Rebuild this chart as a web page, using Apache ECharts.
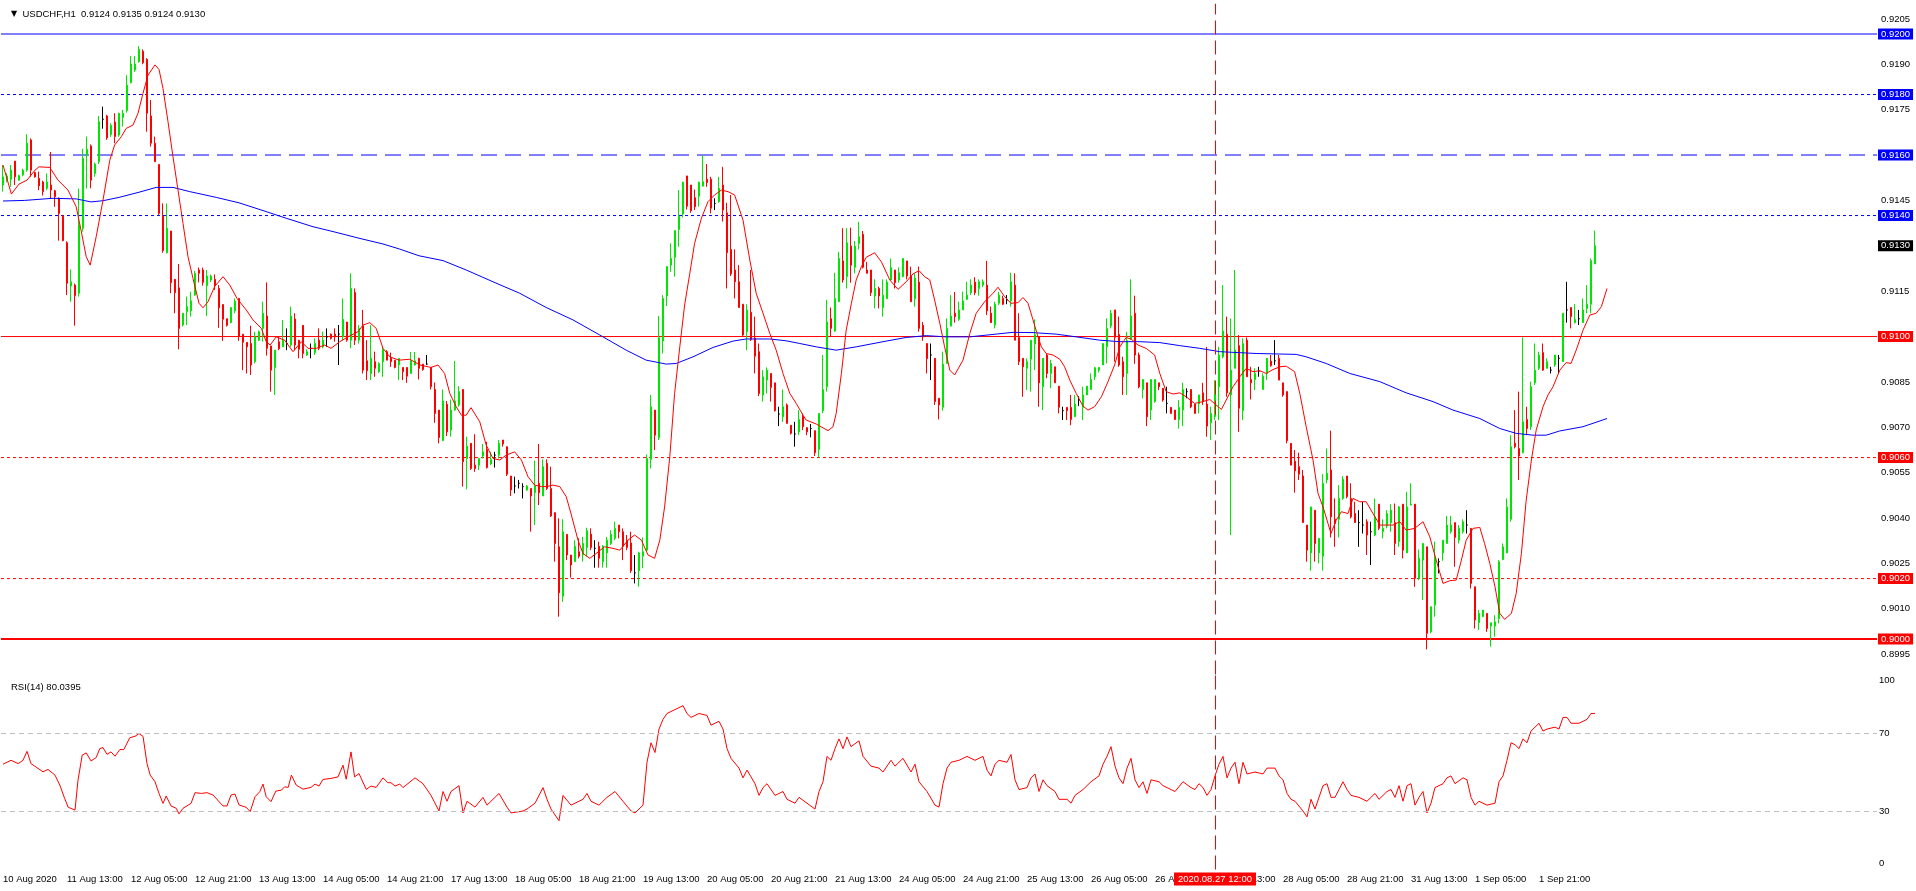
<!DOCTYPE html>
<html><head><meta charset="utf-8">
<script src="https://cdn.jsdelivr.net/npm/echarts@6/dist/echarts.min.js"></script>
<style>html,body{margin:0;padding:0;background:#fff}#c{width:1916px;height:891px}</style>
</head><body><div id="c"></div>
<script>
// ---------- DATA ----------
const symbolName = 'USDCHF,H1';
// hourly candles, ECharts order: [open, close, low, high]
const ohlc = [
[0.91501,0.91528,0.91479,0.91567],[0.91517,0.91531,0.91510,0.91540],[0.91520,0.91550,0.91495,0.91567],[0.91580,0.91528,0.91501,0.91580],[0.91517,0.91532,0.91515,0.91535],[0.91534,0.91550,0.91530,0.91555],[0.91550,0.91639,0.91545,0.91669],[0.91650,0.91550,0.91528,0.91655],[0.91542,0.91528,0.91525,0.91545],[0.91523,0.91498,0.91484,0.91545],
[0.91511,0.91479,0.91466,0.91515],[0.91490,0.91511,0.91484,0.91539],[0.91501,0.91484,0.91457,0.91610],[0.91482,0.91462,0.91429,0.91485],[0.91457,0.91407,0.91317,0.91460],[0.91398,0.91317,0.91315,0.91402],[0.91310,0.91176,0.91137,0.91315],[0.91167,0.91181,0.91115,0.91222],[0.91170,0.91135,0.91036,0.91175],[0.91143,0.91369,0.91132,0.91489],
[0.91358,0.91589,0.91347,0.91621],[0.91600,0.91619,0.91489,0.91661],[0.91630,0.91517,0.91490,0.91635],[0.91539,0.91570,0.91528,0.91575],[0.91578,0.91710,0.91570,0.91729],[0.91718,0.91718,0.91687,0.91760],[0.91729,0.91657,0.91650,0.91733],[0.91668,0.91698,0.91660,0.91705],[0.91709,0.91661,0.91639,0.91738],[0.91666,0.91738,0.91660,0.91740],
[0.91725,0.91738,0.91694,0.91749],[0.91747,0.91831,0.91740,0.91864],[0.91839,0.91901,0.91837,0.91927],[0.91881,0.91901,0.91875,0.91927],[0.91909,0.91949,0.91905,0.91960],[0.91943,0.91905,0.91900,0.91949],[0.91916,0.91738,0.91677,0.91920],[0.91729,0.91639,0.91628,0.91782],[0.91639,0.91578,0.91578,0.91661],[0.91569,0.91407,0.91402,0.91570],
[0.91398,0.91284,0.91277,0.91440],[0.91277,0.91358,0.91275,0.91440],[0.91349,0.91178,0.91143,0.91349],[0.91189,0.91145,0.91077,0.91190],[0.91161,0.91027,0.90958,0.91240],[0.91038,0.91077,0.91033,0.91078],[0.91082,0.91099,0.91038,0.91132],[0.91085,0.91118,0.91066,0.91148],[0.91137,0.91209,0.91135,0.91217],[0.91220,0.91209,0.91179,0.91228],
[0.91220,0.91179,0.91168,0.91228],[0.91168,0.91200,0.91068,0.91220],[0.91187,0.91200,0.91180,0.91205],[0.91189,0.91170,0.91154,0.91205],[0.91159,0.91095,0.91029,0.91170],[0.91106,0.91057,0.90986,0.91106],[0.91059,0.91037,0.91033,0.91059],[0.91046,0.91096,0.91044,0.91096],[0.91085,0.91117,0.91077,0.91126],[0.91126,0.90999,0.90986,0.91126],
[0.91008,0.90981,0.90889,0.91008],[0.90981,0.90966,0.90878,0.90981],[0.90977,0.90906,0.90873,0.91036],[0.90917,0.90999,0.90911,0.91016],[0.90988,0.91016,0.90985,0.91020],[0.91027,0.91077,0.90983,0.91115],[0.91068,0.90961,0.90937,0.91179],[0.90969,0.90889,0.90818,0.90969],[0.90898,0.90955,0.90807,0.90955],[0.90983,0.90960,0.90955,0.90999],
[0.90966,0.90988,0.90966,0.91055],[0.90977,0.90977,0.90955,0.91027],[0.90972,0.91068,0.90966,0.91099],[0.91058,0.90972,0.90955,0.91077],[0.90988,0.90958,0.90928,0.90988],[0.91037,0.90944,0.90928,0.91037],[0.90939,0.90950,0.90936,0.90958],[0.90961,0.90961,0.90928,0.90977],[0.90947,0.90977,0.90939,0.90994],[0.90988,0.90961,0.90955,0.91027],
[0.90966,0.90988,0.90961,0.91016],[0.90999,0.90999,0.90966,0.91027],[0.91008,0.90994,0.90990,0.91010],[0.91008,0.90999,0.90983,0.91027],[0.91008,0.91008,0.90906,0.91038],[0.90999,0.91057,0.90988,0.91126],[0.91048,0.90988,0.90983,0.91048],[0.90988,0.91159,0.90961,0.91209],[0.91146,0.90988,0.90972,0.91159],[0.90988,0.91027,0.90977,0.91038],
[0.91036,0.90889,0.90878,0.91088],[0.90920,0.90887,0.90856,0.90988],[0.90878,0.90928,0.90856,0.91038],[0.90917,0.90895,0.90867,0.90950],[0.90884,0.90911,0.90880,0.90915],[0.90917,0.90958,0.90867,0.90966],[0.90950,0.90922,0.90922,0.90955],[0.90928,0.90917,0.90900,0.90947],[0.90922,0.90898,0.90895,0.90922],[0.90906,0.90928,0.90856,0.90928],
[0.90898,0.90884,0.90856,0.90898],[0.90898,0.90869,0.90847,0.90898],[0.90878,0.90922,0.90878,0.90949],[0.90906,0.90920,0.90904,0.90949],[0.90928,0.90895,0.90858,0.90930],[0.90909,0.90891,0.90887,0.90909],[0.90909,0.90909,0.90906,0.90939],[0.90898,0.90834,0.90825,0.90898],[0.90825,0.90746,0.90715,0.90848],[0.90757,0.90666,0.90647,0.90757],
[0.90656,0.90787,0.90656,0.90825],[0.90776,0.90685,0.90671,0.90787],[0.90691,0.90757,0.90669,0.90792],[0.90757,0.90787,0.90755,0.90919],[0.90774,0.90818,0.90768,0.90836],[0.90825,0.90586,0.90504,0.90825],[0.90597,0.90638,0.90495,0.90669],[0.90647,0.90564,0.90559,0.90647],[0.90575,0.90564,0.90553,0.90677],[0.90575,0.90597,0.90559,0.90597],
[0.90605,0.90619,0.90597,0.90645],[0.90627,0.90567,0.90564,0.90652],[0.90579,0.90594,0.90575,0.90619],[0.90608,0.90608,0.90567,0.90619],[0.90608,0.90647,0.90597,0.90658],[0.90658,0.90645,0.90636,0.90658],[0.90636,0.90545,0.90539,0.90636],[0.90539,0.90493,0.90473,0.90539],[0.90506,0.90506,0.90482,0.90537],[0.90515,0.90515,0.90498,0.90526],
[0.90504,0.90504,0.90465,0.90515],[0.90493,0.90506,0.90490,0.90509],[0.90498,0.90473,0.90355,0.90498],[0.90484,0.90506,0.90377,0.90590],[0.90515,0.90484,0.90443,0.90645],[0.90473,0.90570,0.90473,0.90594],[0.90581,0.90498,0.90493,0.90594],[0.90498,0.90407,0.90404,0.90570],[0.90418,0.90316,0.90256,0.90418],[0.90305,0.90153,0.90074,0.90399],
[0.90142,0.90355,0.90123,0.90396],[0.90346,0.90278,0.90261,0.90346],[0.90278,0.90245,0.90203,0.90278],[0.90256,0.90307,0.90256,0.90327],[0.90289,0.90274,0.90267,0.90333],[0.90278,0.90316,0.90256,0.90338],[0.90303,0.90358,0.90272,0.90368],[0.90347,0.90303,0.90294,0.90366],[0.90300,0.90300,0.90236,0.90327],[0.90307,0.90267,0.90236,0.90322],
[0.90256,0.90307,0.90236,0.90311],[0.90285,0.90327,0.90236,0.90338],[0.90316,0.90346,0.90311,0.90360],[0.90333,0.90366,0.90327,0.90388],[0.90377,0.90355,0.90333,0.90377],[0.90355,0.90307,0.90261,0.90366],[0.90327,0.90303,0.90294,0.90344],[0.90318,0.90226,0.90219,0.90355],[0.90219,0.90219,0.90184,0.90278],[0.90226,0.90285,0.90173,0.90289],
[0.90274,0.90289,0.90234,0.90336],[0.90294,0.90597,0.90289,0.90610],[0.90594,0.90768,0.90564,0.90807],[0.90757,0.90674,0.90625,0.90757],[0.90666,0.90996,0.90658,0.91068],[0.90985,0.91126,0.90944,0.91137],[0.91134,0.91231,0.91101,0.91233],[0.91236,0.91258,0.91214,0.91308],[0.91262,0.91350,0.91198,0.91352],[0.91354,0.91398,0.91297,0.91484],
[0.91405,0.91510,0.91394,0.91512],[0.91531,0.91431,0.91420,0.91531],[0.91501,0.91416,0.91409,0.91501],[0.91459,0.91429,0.91418,0.91486],[0.91464,0.91510,0.91429,0.91512],[0.91497,0.91512,0.91497,0.91599],[0.91520,0.91509,0.91495,0.91570],[0.91520,0.91424,0.91407,0.91528],[0.91440,0.91440,0.91418,0.91457],[0.91446,0.91490,0.91442,0.91528],
[0.91501,0.91418,0.91380,0.91561],[0.91409,0.91277,0.91159,0.91442],[0.91288,0.91207,0.91200,0.91468],[0.91220,0.91181,0.91126,0.91288],[0.91181,0.91096,0.91096,0.91236],[0.91107,0.91005,0.90999,0.91107],[0.91016,0.91088,0.90955,0.91107],[0.91080,0.90991,0.90985,0.91220],[0.90995,0.90935,0.90878,0.91066],[0.90950,0.90812,0.90803,0.90977],
[0.90807,0.90867,0.90785,0.90889],[0.90856,0.90889,0.90812,0.90898],[0.90878,0.90832,0.90785,0.90878],[0.90847,0.90755,0.90752,0.90847],[0.90744,0.90744,0.90704,0.90768],[0.90735,0.90768,0.90718,0.90825],[0.90774,0.90713,0.90713,0.90779],[0.90707,0.90680,0.90676,0.90707],[0.90678,0.90678,0.90636,0.90718],[0.90685,0.90726,0.90674,0.90757],
[0.90737,0.90702,0.90691,0.90746],[0.90699,0.90685,0.90674,0.90699],[0.90696,0.90696,0.90667,0.90711],[0.90689,0.90616,0.90605,0.90689],[0.90627,0.90746,0.90601,0.90746],[0.90755,0.90825,0.90746,0.90939],[0.90834,0.91048,0.90818,0.91121],[0.91059,0.91027,0.90999,0.91096],[0.91018,0.91126,0.91016,0.91211],[0.91115,0.91258,0.91115,0.91280],
[0.91250,0.91187,0.91178,0.91358],[0.91198,0.91310,0.91159,0.91358],[0.91299,0.91236,0.91178,0.91360],[0.91229,0.91299,0.91209,0.91316],[0.91308,0.91330,0.91288,0.91379],[0.91338,0.91229,0.91225,0.91349],[0.91220,0.91209,0.91209,0.91247],[0.91220,0.91145,0.91134,0.91220],[0.91134,0.91159,0.91093,0.91189],[0.91159,0.91134,0.91093,0.91165],
[0.91096,0.91137,0.91066,0.91189],[0.91125,0.91180,0.91125,0.91189],[0.91187,0.91228,0.91187,0.91258],[0.91220,0.91178,0.91159,0.91220],[0.91187,0.91211,0.91178,0.91229],[0.91198,0.91258,0.91196,0.91258],[0.91250,0.91200,0.91189,0.91250],[0.91200,0.91115,0.91115,0.91231],[0.91125,0.91193,0.91099,0.91209],[0.91180,0.91027,0.91016,0.91231],
[0.91037,0.90999,0.90986,0.91048],[0.90977,0.90927,0.90878,0.90977],[0.90939,0.90939,0.90856,0.90977],[0.90928,0.90785,0.90774,0.90928],[0.90796,0.90774,0.90726,0.90796],[0.90766,0.90909,0.90755,0.90950],[0.90911,0.91027,0.90911,0.91060],[0.91035,0.91068,0.91033,0.91137],[0.91077,0.91066,0.91046,0.91147],[0.91057,0.91088,0.91052,0.91115],
[0.91088,0.91118,0.91088,0.91148],[0.91123,0.91137,0.91121,0.91181],[0.91145,0.91170,0.91137,0.91189],[0.91180,0.91145,0.91137,0.91196],[0.91159,0.91181,0.91135,0.91189],[0.91170,0.91181,0.91163,0.91189],[0.91170,0.91085,0.91071,0.91250],[0.91077,0.91046,0.91046,0.91099],[0.91038,0.91107,0.91027,0.91115],[0.91110,0.91137,0.91104,0.91148],
[0.91126,0.91107,0.91104,0.91135],[0.91121,0.91121,0.91107,0.91137],[0.91118,0.91181,0.91099,0.91211],[0.91170,0.90988,0.90988,0.91209],[0.90997,0.90917,0.90906,0.91077],[0.90928,0.90900,0.90801,0.90928],[0.90895,0.90917,0.90823,0.90928],[0.90925,0.90988,0.90818,0.90988],[0.90975,0.91006,0.90889,0.91057],[0.90999,0.90847,0.90768,0.90999],
[0.90834,0.90928,0.90757,0.90928],[0.90939,0.90878,0.90862,0.90945],[0.90878,0.90911,0.90829,0.90923],[0.90900,0.90847,0.90847,0.90900],[0.90836,0.90766,0.90746,0.90836],[0.90755,0.90755,0.90724,0.90768],[0.90766,0.90755,0.90724,0.90766],[0.90766,0.90726,0.90707,0.90807],[0.90735,0.90777,0.90735,0.90807],[0.90790,0.90790,0.90770,0.90803],
[0.90766,0.90807,0.90724,0.90834],[0.90807,0.90836,0.90807,0.90836],[0.90825,0.90858,0.90825,0.90878],[0.90867,0.90897,0.90856,0.90900],[0.90889,0.90898,0.90881,0.90898],[0.90906,0.90977,0.90906,0.90977],[0.90966,0.91027,0.90911,0.91060],[0.91035,0.91077,0.91027,0.91088],[0.91088,0.90997,0.90917,0.91088],[0.91007,0.90906,0.90900,0.91066],
[0.90917,0.90867,0.90807,0.90933],[0.90878,0.90986,0.90807,0.91016],[0.90991,0.91068,0.90991,0.91189],[0.91077,0.90939,0.90910,0.91135],[0.90939,0.90834,0.90829,0.90947],[0.90825,0.90858,0.90796,0.90858],[0.90847,0.90735,0.90704,0.90847],[0.90757,0.90858,0.90724,0.90858],[0.90785,0.90858,0.90781,0.90858],[0.90847,0.90834,0.90823,0.90847],
[0.90829,0.90790,0.90785,0.90829],[0.90779,0.90779,0.90746,0.90834],[0.90766,0.90746,0.90746,0.90766],[0.90757,0.90726,0.90724,0.90757],[0.90726,0.90766,0.90696,0.90790],[0.90757,0.90825,0.90704,0.90847],[0.90818,0.90818,0.90796,0.90829],[0.90825,0.90768,0.90763,0.90825],[0.90777,0.90746,0.90746,0.90777],[0.90777,0.90807,0.90746,0.90807],
[0.90814,0.90785,0.90774,0.90847],[0.90777,0.90704,0.90669,0.90966],[0.90715,0.90746,0.90658,0.90768],[0.90735,0.90851,0.90724,0.90856],[0.90834,0.90939,0.90724,0.90966],[0.90933,0.91018,0.90928,0.91170],[0.91008,0.90814,0.90801,0.91066],[0.90807,0.90889,0.90344,0.91060],[0.90895,0.90955,0.90895,0.91220],[0.90970,0.90763,0.90685,0.91005],
[0.90755,0.90977,0.90724,0.90994],[0.90988,0.90867,0.90867,0.90997],[0.90858,0.90847,0.90792,0.90900],[0.90858,0.90878,0.90823,0.90895],[0.90886,0.90886,0.90867,0.90900],[0.90825,0.90869,0.90825,0.90878],[0.90878,0.90928,0.90856,0.90928],[0.90919,0.90904,0.90900,0.90939],[0.90920,0.90920,0.90906,0.90988],[0.90928,0.90856,0.90856,0.90939],
[0.90847,0.90807,0.90801,0.90847],[0.90818,0.90656,0.90647,0.90818],[0.90647,0.90575,0.90575,0.90647],[0.90588,0.90556,0.90484,0.90625],[0.90570,0.90545,0.90526,0.90616],[0.90539,0.90385,0.90385,0.90559],[0.90377,0.90294,0.90256,0.90377],[0.90285,0.90437,0.90226,0.90437],[0.90426,0.90316,0.90256,0.90426],[0.90285,0.90333,0.90250,0.90333],
[0.90274,0.90515,0.90226,0.90545],[0.90526,0.90548,0.90515,0.90630],[0.90559,0.90404,0.90336,0.90689],[0.90396,0.90382,0.90305,0.90465],[0.90396,0.90465,0.90336,0.90509],[0.90465,0.90528,0.90460,0.90539],[0.90539,0.90471,0.90465,0.90539],[0.90465,0.90404,0.90399,0.90515],[0.90415,0.90385,0.90385,0.90454],[0.90385,0.90385,0.90305,0.90426],
[0.90377,0.90377,0.90349,0.90454],[0.90388,0.90344,0.90278,0.90396],[0.90355,0.90355,0.90245,0.90388],[0.90344,0.90404,0.90340,0.90465],[0.90446,0.90366,0.90360,0.90446],[0.90355,0.90366,0.90333,0.90396],[0.90374,0.90415,0.90366,0.90426],[0.90385,0.90426,0.90355,0.90446],[0.90385,0.90316,0.90278,0.90448],[0.90322,0.90437,0.90305,0.90440],
[0.90446,0.90294,0.90267,0.90446],[0.90285,0.90437,0.90285,0.90487],[0.90443,0.90446,0.90443,0.90515],[0.90446,0.90201,0.90173,0.90446],[0.90201,0.90267,0.90195,0.90296],[0.90261,0.90316,0.90129,0.90316],[0.90305,0.90019,0.89966,0.90305],[0.90024,0.90107,0.90019,0.90107],[0.90112,0.90267,0.90074,0.90322],[0.90256,0.90256,0.90217,0.90267],
[0.90285,0.90327,0.90259,0.90327],[0.90316,0.90377,0.90316,0.90407],[0.90355,0.90377,0.90349,0.90407],[0.90385,0.90336,0.90239,0.90385],[0.90327,0.90366,0.90316,0.90377],[0.90355,0.90388,0.90349,0.90396],[0.90377,0.90377,0.90349,0.90426],[0.90366,0.90184,0.90167,0.90366],[0.90173,0.90063,0.90035,0.90173],[0.90054,0.90085,0.90030,0.90096],
[0.90074,0.90096,0.90074,0.90096],[0.90085,0.90035,0.90024,0.90085],[0.90043,0.90054,0.89975,0.90054],[0.90043,0.90057,0.90008,0.90079],[0.90068,0.90256,0.90052,0.90261],[0.90263,0.90305,0.90261,0.90316],[0.90285,0.90437,0.90285,0.90465],[0.90396,0.90636,0.90388,0.90674],[0.90647,0.90636,0.90630,0.90757],[0.90630,0.90605,0.90526,0.90818],
[0.90616,0.90718,0.90614,0.90997],[0.90726,0.90696,0.90674,0.90768],[0.90702,0.90834,0.90691,0.90851],[0.90847,0.90889,0.90840,0.90977],[0.90895,0.90939,0.90889,0.90950],[0.90947,0.90889,0.90887,0.90977],[0.90895,0.90917,0.90895,0.90928],[0.90889,0.90889,0.90878,0.90900],[0.90906,0.90939,0.90900,0.90939],[0.90928,0.90928,0.90878,0.90939],
[0.90917,0.91077,0.90917,0.91077],[0.91088,0.91088,0.91046,0.91181],[0.91096,0.91066,0.91027,0.91096],[0.91046,0.91057,0.91043,0.91107],[0.91059,0.91059,0.91038,0.91088],[0.91046,0.91088,0.91046,0.91126],[0.91093,0.91107,0.91077,0.91170],[0.91107,0.91251,0.91077,0.91258],[0.91240,0.91300,0.91240,0.91350]
];
// fast moving average (red), read as [bar position, price]
const fastMA = [[0,0.91567],[2.1,0.91471],[4,0.91504],[6,0.91517],[8,0.91550],[9,0.91561],[11.7,0.91559],[13.75,0.91517],[16.25,0.91484],[18.3,0.91429],[19.5,0.91352],[20.8,0.91264],[21.8,0.91236],[23.3,0.91330],[25,0.91451],[26.7,0.91583],[27.9,0.91633],[29.6,0.91661],[30.8,0.91688],[32.5,0.91699],[33.75,0.91738],[35,0.91804],[36.25,0.91864],[38,0.91898],[39,0.91883],[40,0.91820],[41.25,0.91710],[42.5,0.91594],[43.75,0.91484],[45,0.91374],[46.25,0.91264],[47.5,0.91192],[49,0.91110],[50,0.91095],[51.25,0.91115],[52.9,0.91165],[55,0.91198],[56.7,0.91170],[58.5,0.91126],[60.8,0.91088],[62.5,0.91055],[64.6,0.91027],[65.8,0.90983],[66.8,0.90972],[68.3,0.90999],[70.4,0.90988],[72.5,0.90950],[74.6,0.90983],[76.25,0.90961],[78.3,0.90961],[80.4,0.90972],[82,0.90961],[84.2,0.90983],[86.25,0.90999],[88.75,0.91016],[90,0.91038],[91.7,0.91046],[93.3,0.91027],[95,0.90961],[96.7,0.90933],[99,0.90922],
[101.7,0.90925],[104.2,0.90906],[107,0.90898],[108.75,0.90906],[110.4,0.90878],[111.7,0.90812],[113.3,0.90768],[114.6,0.90740],[115.8,0.90740],[117,0.90765],[119.2,0.90718],[120.8,0.90641],[122.5,0.90597],[124.2,0.90592],[125.8,0.90608],[127.9,0.90619],[129.6,0.90592],[131.25,0.90537],[132.9,0.90509],[134.6,0.90504],[135.8,0.90504],[137.5,0.90509],[139.2,0.90504],[140.8,0.90471],[142.1,0.90410],[143.75,0.90327],[145,0.90283],[146.7,0.90267],[148.3,0.90283],[150.4,0.90305],[152.5,0.90300],[154.2,0.90294],[156.25,0.90327],[157.9,0.90344],[159.6,0.90327],[161.25,0.90278],[162.9,0.90267],[164.2,0.90327],[165.4,0.90437],[166.7,0.90603],[167.9,0.90812],[169.2,0.90966],[170.4,0.91104],[171.7,0.91209],[172.9,0.91308],[174.6,0.91391],[176.25,0.91446],[177.9,0.91468],[179.6,0.91484],[181.25,0.91479],[182.9,0.91468],[185,0.91385],[186.7,0.91253],[188.3,0.91143],[190,0.91077],[191.7,0.91010],[193.3,0.90955],[195,0.90878],[196.7,0.90812],[198.3,0.90779],[200,0.90740],
[200.8,0.90724],[203.3,0.90711],[206.25,0.90689],[207.5,0.90702],[208.3,0.90746],[209.6,0.90878],[210.8,0.91021],[212.1,0.91110],[213.3,0.91187],[214.6,0.91231],[215.8,0.91262],[217.9,0.91277],[219.6,0.91247],[221.7,0.91187],[223.75,0.91156],[225.8,0.91181],[227.5,0.91207],[229,0.91218],[230.4,0.91198],[231.7,0.91187],[232.9,0.91121],[234.2,0.91044],[235.4,0.90966],[236.7,0.90889],[237.9,0.90873],[240,0.90922],[241.7,0.91010],[243.3,0.91077],[245.4,0.91115],[247.5,0.91143],[248.75,0.91163],[250.4,0.91132],[252,0.91110],[253.75,0.91112],[255,0.91129],[256.25,0.91110],[257.5,0.91055],[258.75,0.90999],[259.6,0.90966],[260.8,0.90944],[262.5,0.90939],[264.2,0.90925],[265.4,0.90900],[266.7,0.90856],[268.3,0.90812],[270,0.90770],[271.25,0.90757],[272.9,0.90768],[274.6,0.90801],[276.25,0.90851],[277.9,0.90906],[279.2,0.90966],[280.8,0.90997],[282.1,0.90991],[283.75,0.90972],[285.8,0.90961],[287.9,0.90939],[289.2,0.90878],[290.8,0.90818],[292.5,0.90810],[294.2,0.90814],[295.8,0.90801],[297.9,0.90779],[300,0.90785],
[301.7,0.90792],[304.6,0.90759],[305.8,0.90790],[307.5,0.90834],[309.2,0.90867],[310.8,0.90895],[312.5,0.90884],[314.2,0.90887],[315.8,0.90878],[317.5,0.90891],[319.2,0.90900],[320.8,0.90902],[322.9,0.90884],[324.2,0.90812],[325.8,0.90702],[327.5,0.90592],[328.75,0.90482],[330,0.90437],[331.25,0.90382],[332,0.90349],[333.3,0.90393],[334.6,0.90421],[336.25,0.90415],[337.5,0.90465],[339.2,0.90454],[340.8,0.90454],[342.5,0.90415],[344.2,0.90377],[345.8,0.90377],[347.5,0.90377],[349.2,0.90388],[350.8,0.90360],[352.9,0.90366],[355,0.90388],[356.7,0.90338],[358.3,0.90261],[360,0.90184],[361.7,0.90193],[363.3,0.90195],[364.6,0.90261],[365.8,0.90327],[367.5,0.90366],[369.2,0.90369],[370.4,0.90316],[371.7,0.90250],[373,0.90173],[374.2,0.90085],[375.4,0.90065],[377.1,0.90085],[378.3,0.90151],[379.6,0.90283],[380.8,0.90459],[382.1,0.90592],[383.3,0.90691],[385,0.90768],[386.25,0.90807],[387.5,0.90834],[389.2,0.90889],[390.8,0.90914],[392,0.90911],[393.3,0.90955],[395,0.91021],[396.7,0.91071],[398.3,0.91077],[399.6,0.91099],[401,0.91159]];
// slow moving average (blue)
const slowMA = [[0,0.91448],[5.4,0.91450],[12.5,0.91457],[18.3,0.91455],[22,0.91445],[25,0.91449],[29,0.91460],[34,0.91477],[38.3,0.91493],[42.5,0.91493],[46.7,0.91479],[53.3,0.91460],[59,0.91442],[65.8,0.91413],[70.8,0.91391],[77.5,0.91363],[82.5,0.91347],[89,0.91325],[95,0.91306],[99.2,0.91289],[104,0.91267],[110,0.91251],[115.8,0.91220],[122.5,0.91181],[129.2,0.91143],[135.8,0.91096],[142.5,0.91055],[149.2,0.91005],[155.8,0.90955],[160.8,0.90922],[165.8,0.90909],[168.3,0.90911],[172.5,0.90933],[177.5,0.90964],[182.5,0.90985],[185.8,0.90992],[191.7,0.90992],[195.8,0.90986],[199.2,0.90977],[203.3,0.90966],[208.3,0.90955],[213.3,0.90966],[220,0.90983],[225.8,0.90997],[230.8,0.91003],[235.8,0.90999],[241.7,0.90999],[247.5,0.91007],[252.5,0.91014],[257.5,0.91013],[263.3,0.91008],[268.3,0.90999],[274.2,0.90988],[279.2,0.90983],[284.2,0.90983],[289.2,0.90980],[294.2,0.90970],[299.2,0.90961],[304.2,0.90950],[313.3,0.90944],[323.3,0.90941],[325.8,0.90933],[330.8,0.90911],[336.7,0.90878],[344.2,0.90851],[350.8,0.90814],[357.5,0.90785],[362.5,0.90757],[369.2,0.90729],[374.2,0.90696],[378.3,0.90680],[382.5,0.90674],[385.8,0.90674],[389.2,0.90688],[395,0.90702],[401,0.90729]];
// RSI(14) read as [bar position, value]
const rsi = [[0,54.0],[2,56.0],[3.8,54.3],[5,56.0],[6,60.6],[7,54.3],[10,50.1],[11.25,51.3],[13,48.4],[14.2,43.3],[15.4,36.5],[16.3,31.9],[18,30.5],[18.75,45.8],[19.8,58.6],[20.8,59.8],[22,55.7],[23.3,57.4],[24.2,62.0],[25,62.5],[26,59.1],[27,60.3],[28,58.1],[29.2,61.5],[30.2,61.5],[31.7,67.6],[33,68.3],[34,69.7],[35,68.3],[36,54.3],[36.8,48.4],[38,45.0],[39,39.0],[40,33.9],[40.8,37.7],[42,32.6],[43.3,31.4],[44,28.5],[45,31.4],[47,33.9],[48,39.4],[49.6,39.0],[51,39.4],[52.5,38.2],[55,32.6],[56,32.6],[57,38.2],[58,38.7],[59,33.1],[60.8,31.9],[61.8,29.7],[63,37.3],[64.2,39.9],[65,43.8],[65.8,37.3],[67,34.8],[68.2,40.2],[69.6,40.7],[70.4,42.4],[71.3,42.1],[72.1,48.4],[73.3,43.3],[75,41.2],[77,42.1],[78,43.8],[79,42.8],[80,46.2],[82,46.7],[83.75,47.5],[85,53.5],[85.8,46.3],[87,60.3],[87.9,47.5],[89,49.2],[90.8,41.1],[92,42.8],[93.3,42.1],[95,47.0],[96.2,44.5],[97,44.5],[98,42.8],[99.2,43.8],
[100,42],[103,47],[105,44],[107,38],[109,30],[110,40],[111,35],[112,40],[114,43],[115,29],[116,35],[118,32],[120,37],[121,33],[124,39],[126,32],[127,29],[130,30],[131,31],[133,34],[135,42],[136,36],[137,31],[139,25],[140,38],[142,33],[145,36],[146,39],[147,35],[149,33],[151,37],[153,40],[155,35],[157,30],[158,29],[160,33],[161,55],[162,65],[163,60],[164,72],[165,77],[166,80],[168,82],[170,84],[171,80],[172,78],[174,80],[176,79],[177,74],[179,76],[180,72],[181,62],[182,57],[184,52],[185,47],[186,51],[188,44],[189,38],[190,42],[191,44],[193,38],[195,40],[196,36],[198,34],[199,37],
[201,34],[203,31],[204,40],[205,45],[206,58],[207,56],[208,62],[209,67],[210,62],[211,68],[212,63],[214,66],[215,58],[217,53],[219,52],[220,50],[222,56],[223,53],[225,57],[227,50],[228,54],[229,45],[231,40],[233,33],[234,32],[235,44],[236,52],[237,55],[239,56],[241,58],[243,56],[245,58],[246,51],[247,48],[248,54],[249,56],[251,55],[252,59],[253,46],[254,41],[256,42],[257,47],[258,49],[259,40],[260,46],[261,43],[263,40],[264,36],[266,36],[267,34],[268,38],[270,41],[272,45],[274,48],[275,54],[276,58],[277,63],[278,53],[279,47],[280,44],[281,52],[282,57],[283,46],[284,42],[285,45],[286,39],[287,46],[289,45],[290,43],[292,41],[293,40],[295,45],[297,42],[298,41],[299,44],
[300,42],[301,38],[302,41],[303,48],[304,54],[305,58],[306,47],[307,52],[308,55],[309,44],[310,55],[311,49],[313,50],[315,49],[316,52],[318,52],[319,48],[320,46],[321,39],[322,36],[323,35],[325,30],[326,27],[327,36],[328,31],[330,43],[331,44],[332,37],[333,37],[334,41],[335,45],[336,41],[337,38],[339,37],[341,35],[343,39],[344,36],[346,40],[347,41],[348,37],[349,43],[350,35],[351,43],[352,44],[353,33],[354,37],[355,40],[356,29],[357,34],[358,42],[360,44],[361,47],[362,48],[363,44],[365,47],[366,46],[367,37],[368,33],[369,35],[371,33],[373,34],[374,45],[375,48],[376,56],[377,65],[378,64],[379,62],[380,67],[381,65],[382,71],[383,73],[384,75],[385,71],[386,72],[388,73],[389,72],[390,78],[391,78],[392,75],[393,75],[394,75],[395,76],[396,77],[397,80],[398,80.04]];
const rsiLast = 80.0395;
const tickIndex = [0,16,32,48,64,80,96,112,128,144,160,176,192,208,224,240,256,272,288,304,320,336,352,368,384];
const tickText = ['10 Aug 2020','11 Aug 13:00','12 Aug 05:00','12 Aug 21:00','13 Aug 13:00','14 Aug 05:00','14 Aug 21:00','17 Aug 13:00','18 Aug 05:00','18 Aug 21:00','19 Aug 13:00','20 Aug 05:00','20 Aug 21:00','21 Aug 13:00','24 Aug 05:00','24 Aug 21:00','25 Aug 13:00','26 Aug 05:00','26 Aug 21:00','27 Aug 13:00','28 Aug 05:00','28 Aug 21:00','31 Aug 13:00','1 Sep 05:00','1 Sep 21:00'];
const priceTicks = [0.8995,0.9010,0.9025,0.9040,0.9055,0.9070,0.9085,0.9100,0.9115,0.9130,0.9145,0.9160,0.9175,0.9190,0.9205];
const rsiTicks = [0,30,70,100];
const rsiLevels = [70,30];
const levelPrices = [0.9200,0.9180,0.9160,0.9140,0.9100,0.9060,0.9020,0.9000];
const bidPrice = 0.9130;
const markedBar = 303;
const markedBarText = '2020.08.27 12:00';

// ---------- STYLE / LAYOUT ----------
const FONT = 'Liberation Sans';
const FS = 9.5;
const UP = '#00e600', DOWN = '#ff0000', BLUE = '#0000ff', RED = '#ff0000';
const SLOTS = 469;   // chart has free space on the right (chart shift)
const levelStyles = [
  {c:BLUE,t:'solid',w:1},{c:BLUE,t:[3,3],w:1},{c:BLUE,t:[16,8],w:1},{c:BLUE,t:[3,3],w:1},
  {c:RED,t:'solid',w:1},{c:RED,t:[3,3],w:1},{c:RED,t:[3,3],w:1},{c:RED,t:'solid',w:2}
];
const fmt4 = v => v.toFixed(4);
const cats = Array.from({length: SLOTS}, (_, i) => String(i));
const labelAt = {}; tickIndex.forEach((k, j) => { labelAt[k] = tickText[j]; });

const dojiStyle = {color:'#000',color0:'#000',borderColor:'#000',borderColor0:'#000',borderColorDoji:'#000'};
const candleData = ohlc.map(r => r[0] === r[1] ? {value: r, itemStyle: dojiStyle} : r);

const boxLabel = (bg, txt) => ({show:true, position:'end', distance:1, formatter: txt, color:'#fff',
  backgroundColor: bg, padding:[1,3,0,3], fontSize: FS, fontFamily: FONT, lineHeight: 10});

// each price level is its own small line series (two ends of the visible range) with an end label
const xLo = -0.5, xHi = SLOTS - 0.5;
const levelSeries = levelPrices.map((p, j) => ({
  type:'line', xAxisIndex:1, yAxisIndex:0, data:[[xLo, p],[xHi, p]], showSymbol:false, silent:true, z:1,
  lineStyle:{color: levelStyles[j].c, type: levelStyles[j].t, width: levelStyles[j].w},
  endLabel:{show:true, distance:1, formatter: fmt4(p), color:'#fff', backgroundColor: levelStyles[j].c,
    padding:[1,3,0,3], fontSize: FS, fontFamily: FONT, lineHeight: 10}
}));
levelSeries.push({
  type:'line', xAxisIndex:1, yAxisIndex:0, data:[[xLo, bidPrice],[xHi, bidPrice]], showSymbol:false, silent:true, z:1,
  lineStyle:{width:0, opacity:0},
  endLabel:{show:true, distance:1, formatter: fmt4(bidPrice), color:'#fff', backgroundColor:'#000',
    padding:[1,3,0,3], fontSize: FS, fontFamily: FONT, lineHeight: 10}
});

const last = ohlc[ohlc.length - 1];
const titleText = `{t|▼}  ${symbolName}  ${fmt4(last[0])} ${fmt4(last[3])} ${fmt4(last[2])} ${fmt4(last[1])}`;

const chart = echarts.init(document.getElementById('c'), null, {renderer:'canvas'});
chart.setOption({
  animation: false,
  backgroundColor: '#fff',
  textStyle: {fontFamily: FONT},
  title: [
    {text: titleText, left: 6, top: 4, textStyle: {fontSize: FS, fontWeight:'normal', color:'#000', fontFamily: FONT,
      rich: {t: {fontSize: 8, fontFamily: 'DejaVu Sans', color:'#000'}}}},
    {text: 'RSI(14) ' + rsiLast.toFixed(4), left: 6, top: 677, textStyle: {fontSize: FS, fontWeight:'normal', color:'#000', fontFamily: FONT}}
  ],
  grid: [
    {left: 1, width: 1876, top: 3.75, height: 670.75},
    {left: 1, width: 1876, top: 674.5, height: 195}
  ],
  xAxis: [
    {type:'category', gridIndex:0, data: cats, show:false, boundaryGap:true},
    {type:'value', gridIndex:0, min: xLo, max: xHi, show:false},
    {type:'category', gridIndex:1, data: cats, boundaryGap:true,
      axisLine:{show:false}, axisTick:{show:false}, splitLine:{show:false},
      axisLabel:{show:true, interval: (idx) => labelAt[idx] !== undefined, formatter: (v, idx) => labelAt[idx] || '',
        align:'left', margin: 5, fontSize: FS, fontFamily: FONT, color:'#000', hideOverlap:false}},
    {type:'value', gridIndex:1, min: xLo, max: xHi, show:false}
  ],
  yAxis: [
    {type:'value', gridIndex:0, position:'right', min:0.89883, max:0.9210, scale:true,
      axisLine:{show:false}, axisTick:{show:false}, splitLine:{show:false},
      axisLabel:{customValues: priceTicks, formatter: v => fmt4(v), margin: 4, fontSize: FS, fontFamily: FONT, color:'#000'}},
    {type:'value', gridIndex:1, position:'right', min:0, max:100,
      axisLine:{show:false}, axisTick:{show:false}, splitLine:{show:false},
      axisLabel:{customValues: rsiTicks, margin: 2, fontSize: FS, fontFamily: FONT, color:'#000',
        formatter: v => v === 100 ? '{top|100}' : (v === 0 ? '{bot|0}' : String(v)),
        rich: {top: {padding:[12,0,0,0], fontSize: FS, fontFamily: FONT, color:'#000'},
               bot: {padding:[0,0,12,0], fontSize: FS, fontFamily: FONT, color:'#000'}}}}
  ],
  series: [
    ...levelSeries,
    {type:'candlestick', xAxisIndex:0, yAxisIndex:0, data: candleData, barWidth: 2, z:2,
      itemStyle:{color: UP, color0: DOWN, borderColor: UP, borderColor0: DOWN, borderColorDoji:'#000', borderWidth:1}},
    {type:'line', xAxisIndex:1, yAxisIndex:0, data: slowMA, showSymbol:false, lineStyle:{color: BLUE, width:1}, z:3,
      markLine:{silent:true, symbol:['none','none'], animation:false, data:[
        {xAxis: markedBar, lineStyle:{color:RED, type:[14,6], width:1}, label:{show:false}}]}},
    {type:'line', xAxisIndex:1, yAxisIndex:0, data: fastMA, showSymbol:false, lineStyle:{color: RED, width:1}, z:3},
    {type:'line', xAxisIndex:3, yAxisIndex:1, data: rsi, showSymbol:false, lineStyle:{color: RED, width:1},
      markLine:{silent:true, symbol:['none','none'], animation:false, data: [
        ...rsiLevels.map(v => ({yAxis: v, lineStyle:{color:'#c0c0c0', type:[5,4], width:1}, label:{show:false}})),
        {xAxis: markedBar, lineStyle:{color:RED, type:[14,6], width:1},
          label:{show:true, position:'start', distance:3, formatter: markedBarText, color:'#fff', backgroundColor: RED,
            padding:[2,4,1,4], fontSize: FS, fontFamily: FONT}}
      ]}}
  ]
});
</script>
</body></html>
